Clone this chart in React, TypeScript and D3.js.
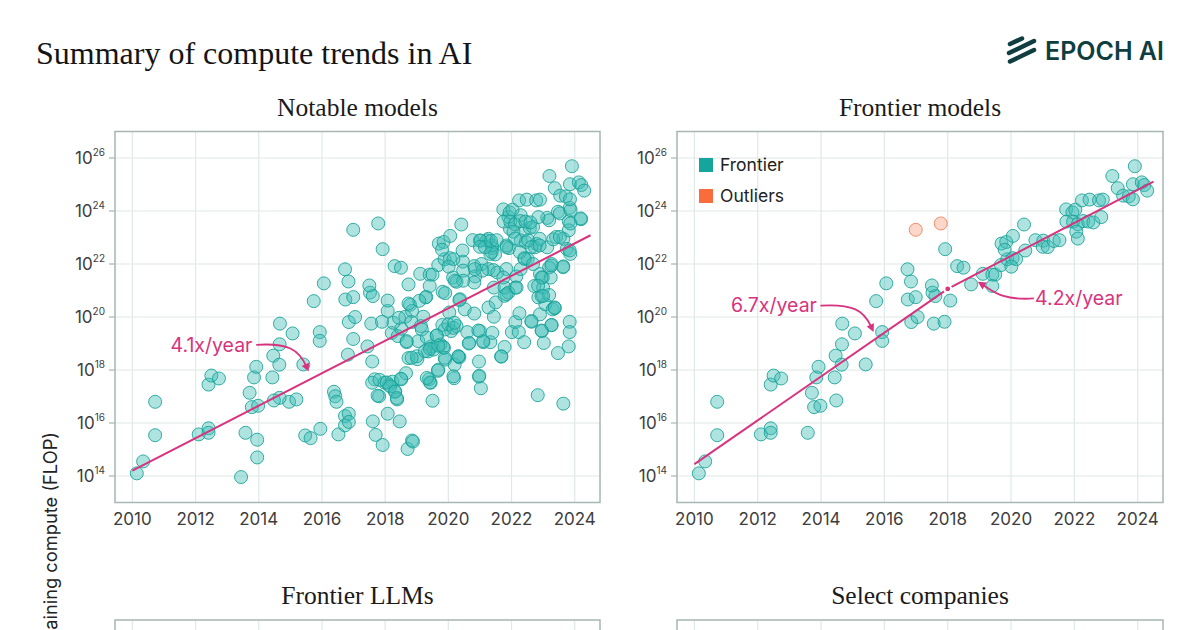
import React from 'react';
import * as d3 from 'd3';

// Frontier models: [publication year, log10 training compute in FLOP]
const frontierPoints: [number, number][] = [
  [2010.14, 14.1], [2010.34, 14.55], [2010.72, 16.8], [2010.72, 15.54], [2012.1, 15.57],
  [2012.41, 15.8], [2012.41, 15.63], [2012.41, 17.45], [2012.5, 17.79], [2012.74, 17.68],
  [2013.58, 15.63], [2013.71, 17.14], [2013.78, 16.6], [2013.98, 16.65], [2013.85, 17.72],
  [2013.92, 18.12], [2014.43, 17.72], [2014.46, 18.54], [2014.48, 16.85], [2014.65, 18.2],
  [2014.66, 18.97], [2014.67, 19.75], [2015.07, 19.38], [2015.41, 18.21], [2015.74, 20.6],
  [2015.93, 19.43], [2015.93, 19.1], [2016.06, 21.27], [2016.73, 21.8], [2016.84, 21.34],
  [2016.74, 20.66], [2016.99, 20.75], [2016.85, 19.81], [2017.05, 20.0], [2017.52, 20.92],
  [2017.61, 20.79], [2017.5, 21.19], [2017.56, 19.75], [2017.9, 19.82], [2018.08, 20.62],
  [2017.92, 22.56], [2018.3, 21.92], [2018.5, 21.86], [2018.74, 21.23], [2019.11, 21.63],
  [2019.41, 21.6], [2019.5, 21.6], [2019.41, 21.17], [2019.68, 21.96], [2019.88, 22.18],
  [2020.05, 22.22], [2020.16, 22.18], [2020.01, 21.9], [2019.7, 22.77], [2019.85, 22.83],
  [2020.06, 23.06], [2019.8, 22.54], [2020.41, 23.49], [2020.45, 22.51], [2020.77, 22.9],
  [2021.02, 22.88], [2021.0, 22.65], [2021.16, 22.64], [2021.35, 22.87], [2021.53, 22.9],
  [2021.74, 24.06], [2021.94, 23.95], [2022.03, 24.05], [2021.75, 23.6], [2021.96, 23.6],
  [2022.11, 23.5], [2022.06, 23.22], [2022.11, 22.96], [2022.28, 23.62], [2022.44, 23.6],
  [2022.6, 23.57], [2022.85, 23.77], [2022.24, 24.4], [2022.48, 24.43], [2022.78, 24.4],
  [2022.9, 24.43], [2023.2, 25.32], [2023.37, 24.86], [2023.54, 24.58], [2023.72, 24.55],
  [2023.85, 24.44], [2023.91, 25.69], [2023.85, 25.01], [2024.13, 25.08], [2024.21, 24.98],
  [2024.3, 24.77],
];

// Models excluded from the frontier fit
const outlierPoints: [number, number][] = [
  [2016.99, 23.29], [2017.78, 23.53],
];

// Remaining notable models (not on the frontier)
const otherNotablePoints: [number, number][] = [
  [2013.95, 15.37], [2013.95, 14.7], [2013.44, 13.96], [2014.96, 16.8], [2014.66, 16.95],
  [2015.19, 16.89], [2015.47, 15.53], [2015.64, 15.43], [2015.95, 15.78], [2016.52, 15.57],
  [2016.38, 17.18], [2016.42, 17.01], [2016.46, 16.8], [2016.99, 19.17], [2016.82, 18.58],
  [2016.73, 16.26], [2016.85, 16.35], [2016.73, 15.91], [2016.85, 16.04], [2017.44, 18.89],
  [2017.59, 18.32], [2017.67, 17.65], [2017.59, 17.52], [2017.61, 16.06], [2017.7, 15.55],
  [2017.81, 17.01], [2017.92, 15.17], [2018.08, 20.23], [2018.08, 16.35], [2017.98, 17.52],
  [2018.12, 17.43], [2018.23, 17.56], [2018.31, 17.18], [2018.38, 16.89], [2018.21, 19.4],
  [2018.4, 19.28], [2018.51, 19.56], [2018.46, 16.06], [2018.51, 17.65], [2018.66, 17.88],
  [2018.64, 20.01], [2018.68, 19.05], [2018.74, 18.45], [2018.79, 20.46], [2018.85, 20.23],
  [2018.83, 19.81], [2018.71, 15.02], [2018.85, 15.34], [2018.88, 15.3], [2019.02, 18.41],
  [2019.05, 19.09], [2019.13, 19.66], [2019.21, 20.01], [2019.28, 20.74], [2019.36, 18.7],
  [2019.45, 18.89], [2019.39, 17.65], [2019.53, 18.77], [2019.5, 16.84], [2019.44, 17.52],
  [2019.64, 19.3], [2019.67, 17.97], [2019.75, 18.96], [2019.86, 18.83], [2019.9, 18.39],
  [2019.81, 19.7], [2020.03, 20.17], [2020.09, 19.47], [2020.18, 17.69], [2020.2, 18.2],
  [2020.35, 18.48], [2020.26, 19.66], [2020.37, 20.67], [2020.6, 19.43], [2020.65, 19.0],
  [2020.52, 20.29], [2020.82, 20.13], [2020.97, 18.32], [2020.97, 17.75], [2021.03, 17.31],
  [2021.0, 19.47], [2021.11, 19.05], [2021.27, 20.36], [2021.33, 19.05], [2021.39, 19.4],
  [2021.44, 20.01], [2021.5, 20.55], [2021.78, 18.87], [2021.67, 18.51], [2022.01, 19.43],
  [2022.12, 19.81], [2022.23, 19.43], [2022.25, 20.14], [2022.4, 19.05], [2021.78, 20.8],
  [2022.63, 19.82], [2022.83, 17.05], [2022.85, 20.74], [2022.9, 20.1], [2022.96, 19.47],
  [2023.02, 19.02], [2023.07, 20.48], [2023.3, 20.29], [2023.36, 20.36], [2023.27, 19.7],
  [2023.47, 18.64], [2023.64, 16.73], [2023.84, 19.82], [2023.84, 19.43], [2023.81, 18.89],
  [2019.3, 20.76], [2019.82, 20.95], [2019.9, 20.9], [2020.15, 21.49], [2020.26, 21.33],
  [2020.46, 22.09], [2020.35, 20.64], [2021.27, 22.95], [2021.39, 22.6], [2021.48, 22.36],
  [2021.33, 22.38], [2020.82, 21.92], [2020.85, 21.53], [2020.82, 21.3], [2021.05, 22.0],
  [2021.27, 21.81], [2021.43, 21.77], [2021.55, 21.68], [2021.44, 21.11], [2022.29, 23.84],
  [2021.9, 23.78], [2022.4, 23.27], [2022.58, 23.36], [2023.13, 23.74], [2023.84, 24.12],
  [2024.2, 23.69], [2023.47, 23.97], [2023.19, 23.65], [2023.81, 23.61], [2023.41, 23.02],
  [2023.13, 22.63], [2023.64, 22.95], [2023.81, 23.27], [2023.75, 22.57], [2023.86, 22.38],
  [2023.64, 21.91], [2023.27, 22.0], [2023.19, 21.87], [2022.9, 21.62], [2022.99, 21.49],
  [2023.24, 21.49], [2022.72, 21.17], [2023.0, 21.11], [2022.95, 20.79], [2023.19, 20.83],
  [2021.84, 22.7], [2021.92, 22.6], [2022.29, 22.89], [2022.45, 22.83], [2022.79, 22.76],
  [2022.74, 22.63], [2022.4, 22.22], [2022.51, 22.19], [2021.84, 21.81], [2022.15, 21.53],
  [2022.29, 21.81], [2021.78, 21.11], [2021.9, 20.92], [2022.12, 21.11],
  [2019.08, 20.61], [2018.26, 19.78], [2018.44, 19.97], [2019.89, 19.53], [2020.0, 19.72],
  [2019.68, 18.01], [2020.32, 18.52], [2019.42, 17.53], [2019.32, 17.7], [2019.0, 18.52],
  [2019.26, 18.71], [2019.84, 18.87], [2020.47, 21.75], [2020.47, 21.37], [2020.21, 21.37],
  [2017.82, 17.63], [2018.05, 17.53], [2017.76, 17.03], [2018.16, 17.38], [2018.32, 17.19],
  [2018.37, 16.94], [2018.5, 17.67], [2018.74, 20.51], [2019.16, 19.53], [2019.32, 19.22],
  [2018.68, 19.09], [2018.84, 18.46], [2019.42, 18.8], [2019.68, 18.92], [2019.63, 19.3],
  [2020.16, 19.59], [2020.19, 19.78], [2020.16, 17.76], [2019.89, 18.46], [2021.1, 19.09],
  [2023.53, 23.91], [2023.87, 24.03], [2024.19, 23.72], [2023.86, 23.53], [2022.68, 23.4],
  [2021.95, 23.33], [2022.53, 22.89], [2022.89, 22.95], [2023.32, 22.93], [2023.53, 23.02],
  [2022.63, 22.64], [2022.89, 22.7], [2023.84, 22.51], [2023.63, 21.88], [2023.26, 21.94],
  [2022.26, 22.45], [2022.42, 22.19], [2022.68, 22.0], [2022.95, 21.49], [2022.84, 21.18],
  [2023.0, 20.8], [2021.84, 22.64], [2021.38, 22.7], [2021.21, 22.89], [2021.0, 22.89],
  [2021.37, 22.45], [2021.74, 21.49], [2021.84, 20.86], [2022.16, 21.11], [2021.08, 21.75],
  [2020.84, 21.81], [2023.26, 19.69], [2022.63, 19.85], [2022.95, 19.49], [2023.37, 20.33],
  [2020.98, 17.78], [2020.66, 19.02], [2020.32, 18.51], [2021.68, 18.51], [2020.95, 19.49],
];

const yearTicks = [2010, 2012, 2014, 2016, 2018, 2020, 2022, 2024];
const exponentTicks = [14, 16, 18, 20, 22, 24, 26];
const yearDomain: [number, number] = [2009.45, 2024.8];
const exponentDomain: [number, number] = [13, 27];

// Log-linear fits: start year, log10 FLOP at start, growth factor per year
const notableTrend = { from: 2010, to: 2024.5, startExp: 14.2, growth: 4.1, label: '4.1x/year' };
const frontierEarlyTrend = { from: 2010, to: 2018, startExp: 14.45, growth: 6.7, label: '6.7x/year' };
const frontierLateTrend = { from: 2018, to: 2024.5, growth: 4.2, label: '4.2x/year' };

const TEAL_FILL = '#3dbdb4';
const TEAL_STROKE = '#14a096';
const ORANGE_FILL = '#f8a080';
const ORANGE_STROKE = '#ef7c55';
const PINK = '#d8337e';
const GRID = '#dfe9e8';
const FRAME = '#a7b6b4';
const TICK_TEXT = '#3d3d3d';
const SANS = 'Inter, "Open Sans", sans-serif';
const SERIF = '"Liberation Serif", "DejaVu Serif", serif';

const PANEL_H = 371;
const POINT_R = 6.5;

type Scales = { x: d3.ScaleLinear<number, number>; y: d3.ScaleLogarithmic<number, number> };

function makeScales(x0: number, x1: number, y0: number): Scales {
  return {
    x: d3.scaleLinear().domain(yearDomain).range([x0, x1]),
    y: d3.scaleLog().domain(exponentDomain.map((e) => 10 ** e)).range([y0 + PANEL_H, y0]),
  };
}

function Panel({ x0, x1, y0, title, axes, children }: {
  x0: number; x1: number; y0: number; title: string; axes: boolean;
  children?: (s: Scales) => React.ReactNode;
}) {
  const s = makeScales(x0, x1, y0);
  const y1 = y0 + PANEL_H;
  return (
    <g>
      <text x={(x0 + x1) / 2} y={y0 - 16} textAnchor="middle" fontFamily={SERIF} fontSize={25.5} fill="#1b1b1b">
        {title}
      </text>
      {yearTicks.map((t) => (
        <line key={'gx' + t} x1={s.x(t)} x2={s.x(t)} y1={y0} y2={y1} stroke={GRID} strokeWidth={1.2} />
      ))}
      {exponentTicks.map((e) => (
        <line key={'gy' + e} x1={x0} x2={x1} y1={s.y(10 ** e)} y2={s.y(10 ** e)} stroke={GRID} strokeWidth={1.2} />
      ))}
      <rect x={x0} y={y0} width={x1 - x0} height={PANEL_H} fill="none" stroke={FRAME} strokeWidth={1.5} />
      {axes && exponentTicks.map((e) => (
        <g key={'ty' + e}>
          <line x1={x0 - 6} x2={x0} y1={s.y(10 ** e)} y2={s.y(10 ** e)} stroke={FRAME} strokeWidth={1.2} />
          <text x={x0 - 10} y={s.y(10 ** e) + 6} textAnchor="end" fontFamily={SANS} fontSize={17} fill={TICK_TEXT}>
            10<tspan dy={-8.5} fontSize={10}>{e}</tspan>
          </text>
        </g>
      ))}
      {axes && yearTicks.map((t) => (
        <text key={'tx' + t} x={s.x(t)} y={y1 + 22} textAnchor="middle" fontFamily={SANS} fontSize={17} fill={TICK_TEXT}>
          {t}
        </text>
      ))}
      {children && children(s)}
    </g>
  );
}

function Dots({ s, data, fill, stroke }: { s: Scales; data: [number, number][]; fill: string; stroke: string }) {
  return (
    <g>
      {data.map(([yr, e], i) => (
        <circle key={i} cx={s.x(yr)} cy={s.y(10 ** e)} r={POINT_R} fill={fill} fillOpacity={0.42}
          stroke={stroke} strokeOpacity={0.85} strokeWidth={1} />
      ))}
    </g>
  );
}

function trendEnd(startExp: number, growth: number, years: number) {
  return startExp + Math.log10(growth) * years;
}

function TrendLine({ s, from, to, startExp, growth }: { s: Scales; from: number; to: number; startExp: number; growth: number }) {
  const line = d3.line<number>()
    .x((t) => s.x(t))
    .y((t) => s.y(10 ** trendEnd(startExp, growth, t - from)));
  return <path d={line([from, to]) || ''} fill="none" stroke={PINK} strokeWidth={2} />;
}

// Curved annotation arrow in pixel space: start, two control offsets, end; arrowhead at end
function Arrow({ sx, sy, c1, c2, ex, ey }: { sx: number; sy: number; c1: [number, number]; c2: [number, number]; ex: number; ey: number }) {
  const p = d3.path();
  const cx1 = sx + c1[0], cy1 = sy + c1[1];
  const cx2 = ex + c2[0], cy2 = ey + c2[1];
  const ang = Math.atan2(ey - cy2, ex - cx2);
  const len = 8, half = 4;
  const bx = ex - len * Math.cos(ang), by = ey - len * Math.sin(ang);
  p.moveTo(sx, sy);
  p.bezierCurveTo(cx1, cy1, cx2, cy2, bx + 2 * Math.cos(ang), by + 2 * Math.sin(ang));
  const head = [
    [ex, ey],
    [bx + half * Math.sin(ang), by - half * Math.cos(ang)],
    [bx - half * Math.sin(ang), by + half * Math.cos(ang)],
  ].map((q) => q.join(',')).join(' ');
  return (
    <g>
      <path d={p.toString()} fill="none" stroke={PINK} strokeWidth={1.8} />
      <polygon points={head} fill={PINK} />
    </g>
  );
}

export default function App() {
  const breakExp = trendEnd(frontierEarlyTrend.startExp, frontierEarlyTrend.growth, frontierEarlyTrend.to - frontierEarlyTrend.from);
  const notableAll = [...otherNotablePoints, ...frontierPoints];
  return (
    <svg width={1200} height={630} viewBox="0 0 1200 630" style={{ position: 'absolute', left: 0, top: 0, background: '#fff' }}>
      <rect width={1200} height={630} fill="#fff" />
      <text x={36} y={64} fontFamily={SERIF} fontSize={32} fill="#141414">Summary of compute trends in AI</text>

      {/* logo */}
      <g stroke="#0f3d40" strokeWidth={4.5} strokeLinecap="round">
        <line x1={1010} y1={44} x2={1022} y2={38.5} />
        <line x1={1009} y1={53} x2={1034} y2={41} />
        <line x1={1010} y1={61.5} x2={1034} y2={50} />
      </g>
      <text x={1045} y={60} fontFamily={SANS} fontSize={25} fontWeight={600} fill="#0f3d40">EPOCH AI</text>

      <text transform="translate(57,432) rotate(-90)" textAnchor="end" fontFamily={SANS} fontSize={18.3} fill="#222">
        Training compute (FLOP)
      </text>

      <Panel x0={115} x1={600} y0={131.5} title="Notable models" axes>
        {(s) => {
          const sx = s.x(2013.92), sy = s.y(10 ** 18.95);
          const ex = s.x(2015.58), ey = s.y(10 ** 17.94);
          return (
            <g>
              <Dots s={s} data={notableAll} fill={TEAL_FILL} stroke={TEAL_STROKE} />
              <Dots s={s} data={outlierPoints} fill={TEAL_FILL} stroke={TEAL_STROKE} />
              <TrendLine s={s} from={notableTrend.from} to={notableTrend.to} startExp={notableTrend.startExp} growth={notableTrend.growth} />
              <text x={s.x(2013.8)} y={s.y(10 ** 18.95) + 7} textAnchor="end" fontFamily={SANS} fontSize={19.5} fill={PINK}>
                {notableTrend.label}
              </text>
              <Arrow sx={sx} sy={sy} c1={[32, -2]} c2={[-10, -22]} ex={ex} ey={ey} />
            </g>
          );
        }}
      </Panel>

      <Panel x0={677} x1={1163} y0={131.5} title="Frontier models" axes>
        {(s) => {
          const bx = s.x(frontierLateTrend.from), by = s.y(10 ** breakExp);
          return (
            <g>
              <Dots s={s} data={frontierPoints} fill={TEAL_FILL} stroke={TEAL_STROKE} />
              <Dots s={s} data={outlierPoints} fill={ORANGE_FILL} stroke={ORANGE_STROKE} />
              <TrendLine s={s} from={frontierEarlyTrend.from} to={frontierEarlyTrend.to} startExp={frontierEarlyTrend.startExp} growth={frontierEarlyTrend.growth} />
              <TrendLine s={s} from={frontierLateTrend.from} to={frontierLateTrend.to} startExp={breakExp} growth={frontierLateTrend.growth} />
              <circle cx={bx} cy={by} r={4.5} fill="#fff" />
              <circle cx={bx} cy={by} r={2.4} fill={PINK} />
              <text x={s.x(2013.87)} y={s.y(10 ** 20.45) + 7} textAnchor="end" fontFamily={SANS} fontSize={19.5} fill={PINK}>
                {frontierEarlyTrend.label}
              </text>
              <Arrow sx={s.x(2013.98)} sy={s.y(10 ** 20.43)} c1={[32, -2]} c2={[-10, -22]} ex={s.x(2015.66)} ey={s.y(10 ** 19.43)} />
              <text x={s.x(2020.76)} y={s.y(10 ** 20.72) + 7} textAnchor="start" fontFamily={SANS} fontSize={19.5} fill={PINK}>
                {frontierLateTrend.label}
              </text>
              <Arrow sx={s.x(2020.72)} sy={s.y(10 ** 20.7)} c1={[-32, 2]} c2={[16, 10]} ex={s.x(2018.95)} ey={s.y(10 ** 21.33)} />
              {/* legend */}
              <rect x={699} y={158} width={14} height={14} fill="#14a69c" />
              <text x={720} y={171} fontFamily={SANS} fontSize={17.5} fill="#222">Frontier</text>
              <rect x={699} y={189} width={14} height={14} fill="#fb6c3c" />
              <text x={720} y={202} fontFamily={SANS} fontSize={17.5} fill="#222">Outliers</text>
            </g>
          );
        }}
      </Panel>

      <Panel x0={115} x1={600} y0={620} title="Frontier LLMs" axes={false} />
      <Panel x0={677} x1={1163} y0={620} title="Select companies" axes={false} />
    </svg>
  );
}
